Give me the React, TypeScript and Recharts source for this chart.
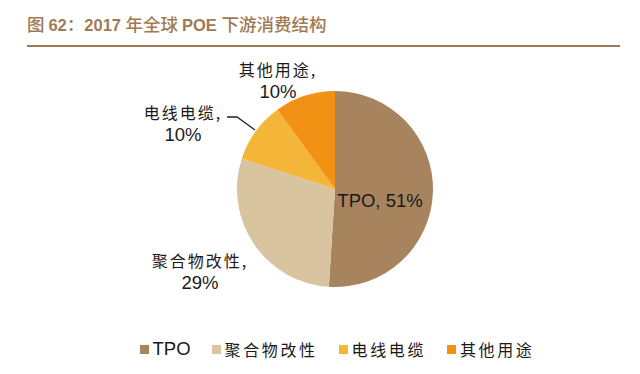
import React from 'react';
import { PieChart, Pie, Cell, Legend } from 'recharts';

const categories = ['TPO', '聚合物改性', '电线电缆', '其他用途'];
const shares = [51, 29, 10, 10];
const colors = ['#A8845E', '#D8C49F', '#F4B638', '#F29214'];

const data = categories.map((name, i) => ({ name, value: shares[i] }));

const CJK = '"Noto Sans CJK SC", sans-serif';
const LAT = '"Liberation Sans", Arial, sans-serif';
const TITLE_COLOR = '#A07A55';

// label placement offsets (styling) relative to pie centre
const labelPos = [
  { dx: 45, dy: 11, inside: true },
  { dx: -135, dy: 71 },
  { dx: -152, dy: -77 },
  { dx: -57, dy: -120 },
];

const renderLabel = (props: any) => {
  const { cx, cy, index, name, value } = props;
  const p = labelPos[index];
  const x = cx + p.dx;
  const y = cy + p.dy;
  if (p.inside) {
    return (
      <text x={x} y={y} textAnchor="middle" dominantBaseline="central" fill="#1a1a1a"
        style={{ fontFamily: LAT, fontSize: 18.5 }}>
        {`${name}, ${value}%`}
      </text>
    );
  }
  return (
    <g>
      {index === 2 && (
        <path d={`M ${x + 44} ${y + 5} L ${x + 54} ${y + 5} L ${x + 72} ${y + 18}`} stroke="#222" strokeWidth={1.3} fill="none" />
      )}
      <text x={x} y={y} textAnchor="middle" dominantBaseline="central" fill="#1a1a1a"
        style={{ fontFamily: CJK, fontSize: 16, letterSpacing: 2 }}>
        {`${name},`}
      </text>
      <text x={x} y={y + 22} textAnchor="middle" dominantBaseline="central" fill="#1a1a1a"
        style={{ fontFamily: LAT, fontSize: 18.5 }}>
        {`${value}%`}
      </text>
    </g>
  );
};

const renderLegend = () => (
  <div style={{ display: 'flex', justifyContent: 'center', alignItems: 'center', paddingLeft: 34 }}>
    {categories.map((name, i) => (
      <div key={name} style={{ display: 'flex', alignItems: 'center', marginRight: i < categories.length - 1 ? 21 : 0 }}>
        <span style={{ display: 'inline-block', width: 9, height: 9, background: colors[i], marginRight: 4 }} />
        <span style={{
          fontFamily: name === 'TPO' ? LAT : CJK,
          fontSize: name === 'TPO' ? 18.5 : 16,
          letterSpacing: name === 'TPO' ? 0 : 2.6,
          color: '#1a1a1a',
          lineHeight: '24px',
        }}>{name}</span>
      </div>
    ))}
  </div>
);

const B = (s: string) => <span style={{ fontFamily: LAT, fontWeight: 700, fontSize: 16.5 }}>{s}</span>;
const C = (s: string) => <span style={{ fontFamily: CJK, fontWeight: 500, fontSize: 17.5 }}>{s}</span>;

export default function App() {
  return (
    <div style={{ position: 'absolute', left: 0, top: 0, width: 640, height: 374, background: '#fff' }}>
      <div style={{
        position: 'absolute', left: 27, top: 12, color: TITLE_COLOR, whiteSpace: 'nowrap', lineHeight: '24px',
      }}>
        {C('图 ')}{B('62')}{C('：')}{B('2017 ')}{C('年全球 ')}{B('POE ')}{C('下游消费结构')}
      </div>
      <div style={{ position: 'absolute', left: 27, top: 45, width: 593, height: 2, background: TITLE_COLOR }} />
      <PieChart width={640} height={374} margin={{ top: 0, right: 0, bottom: 0, left: 0 }}
        style={{ position: 'absolute', left: 0, top: 0 }}>
        <Pie
          data={data}
          dataKey="value"
          nameKey="name"
          cx={335}
          cy={189}
          outerRadius={98}
          startAngle={90}
          endAngle={-270}
          stroke="none"
          label={renderLabel}
          labelLine={false}
          isAnimationActive={false}
        >
          {data.map((d, i) => (
            <Cell key={d.name} fill={colors[i]} />
          ))}
        </Pie>
        <Legend content={renderLegend} verticalAlign="bottom" wrapperStyle={{ top: 337, left: 0, width: 640 }} />
      </PieChart>
    </div>
  );
}
